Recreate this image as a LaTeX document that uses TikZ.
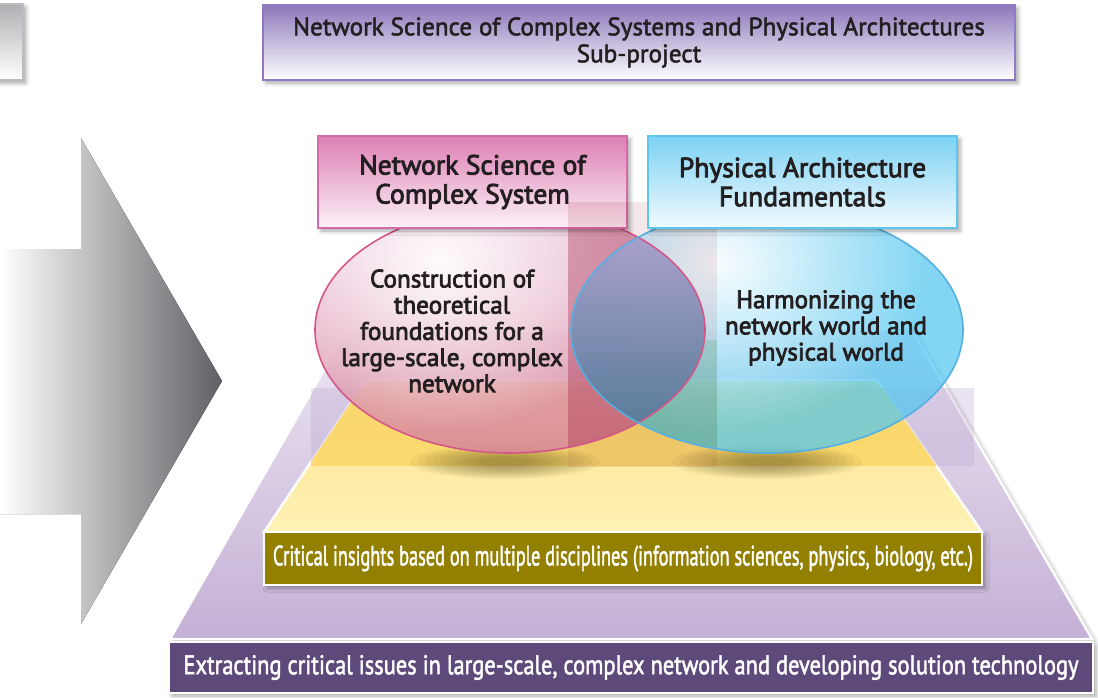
\documentclass[tikz,border=0pt]{standalone}
\usepackage{fontspec}
\setmainfont{PT Sans}
\newfontfamily\semi[FakeBold=3]{PT Sans}
\newfontfamily\barfont[FakeBold=2]{PT Sans}
\usepackage{graphicx}
\usetikzlibrary{shadows.blur,fadings}
\definecolor{arrowdark}{HTML}{5F6064}
\definecolor{purpT}{HTML}{ECE6F3}
\definecolor{purpB}{HTML}{C4B0D5}
\definecolor{yelT}{HTML}{FDE48C}
\definecolor{yelB}{HTML}{FFF1B6}
\definecolor{paneLav}{HTML}{B9A3CF}
\definecolor{yelsat}{HTML}{FDDA64}
\definecolor{olivebar}{HTML}{938000}
\definecolor{barpurple}{HTML}{5D4A7A}
\definecolor{pinkT}{HTML}{DC7FB3}
\definecolor{pinkB}{HTML}{FDF2F7}
\definecolor{pinkD}{HTML}{D46AA8}
\definecolor{blueT}{HTML}{7DD2F4}
\definecolor{blueB}{HTML}{F2FAFE}
\definecolor{blueD}{HTML}{5DC6EE}
\definecolor{ellpT}{HTML}{E9B8D8}
\definecolor{ellpB}{HTML}{D8869A}
\definecolor{ellpD}{HTML}{D4578A}
\definecolor{ellblue}{HTML}{52C6F0}
\definecolor{ellbD}{HTML}{54B0E2}
\definecolor{topT}{HTML}{8C78BB}
\definecolor{topD}{HTML}{8F7BC2}
\definecolor{grayT}{HTML}{B0B0B4}
\definecolor{grayD}{HTML}{BDBDC1}
\definecolor{shadowc}{HTML}{4E4010}
\definecolor{textc}{HTML}{231F20}
\definecolor{paneA}{HTML}{8A2A3A}
\definecolor{pinkdark}{HTML}{A82848}
\definecolor{greenish}{HTML}{3AA860}
\definecolor{lensT}{HTML}{B4A6D6}
\definecolor{lensB}{HTML}{4C7694}
\tikzfading[name=glow, inner color=transparent!0, outer color=transparent!100]
\newcommand\fitto[2]{\resizebox{#1}{\height}{#2}}
\tikzset{
  panel/.style={draw, line width=0.7pt, inner sep=0pt, align=center, text=textc,
    blur shadow={shadow xshift=1.5pt, shadow yshift=-1.5pt, shadow blur radius=2pt, shadow opacity=35}},
  etext/.style={align=center, text=textc, inner sep=0pt, font=\semi\fontsize{12.6}{13.1}\selectfont},
  barbox/.style={draw=white, line width=0.8pt, inner sep=0pt, text=white,
    blur shadow={shadow xshift=1.5pt, shadow yshift=-1.5pt, shadow blur radius=2pt, shadow opacity=35}},
  shadowpart/.style={fill=shadowc, opacity=0.055},
}
\begin{document}
\begin{tikzpicture}[x={(0.5pt,0)}, y={(0,-0.5pt)}]
\useasboundingbox (0,0) rectangle (1098,697);

% partial grey box at top left
\node[panel, draw=grayD, top color=grayT, bottom color=white, minimum width=45pt, minimum height=38pt] (gbox) at (-22,42) {};

% big grey arrow
\fill[left color=white, right color=arrowdark] (0,249) -- (81,249) -- (81,138) -- (222,381) -- (81,624) -- (81,514) -- (0,514) -- cycle;

% purple trapezoid
\path[draw=white, line width=1.2pt, top color=purpT, bottom color=purpB,
  blur shadow={shadow xshift=1.5pt, shadow yshift=-1pt, shadow blur radius=2pt, shadow opacity=30}]
  (347,330) -- (912,330) -- (1092,639) -- (170,639) -- cycle;

% yellow trapezoid
\path[draw=white, line width=1.2pt, top color=yelT, bottom color=yelB]
  (366,380) -- (877,380) -- (982,532) -- (264,532) -- cycle;

% glass pane
\fill[paneLav, opacity=0.3] (311,388) rectangle (974,466);
\begin{scope}
  \clip (366,380) -- (877,380) -- (982,532) -- (264,532) -- cycle;
  \fill[yelsat, opacity=0.85] (311,388) rectangle (974,466);
\end{scope}

% shadows under the ellipses
\foreach \s in {1.0,0.92,0.84,0.76,0.68,0.6,0.52,0.44,0.36,0.28}{
  \fill[shadowpart] (505,462) ellipse ({95*\s} and {17*\s});
  \fill[shadowpart] (767,462) ellipse ({95*\s} and {17*\s});
}

% pink ellipse
\path[top color=ellpT, bottom color=ellpB, fill opacity=0.85] (510,330) ellipse (195 and 123);
\begin{scope}
  \clip (510,330) ellipse (195 and 123);
  \fill[white, path fading=glow, fill opacity=0.95] (440,262) ellipse (210 and 170);
\end{scope}

% blue ellipse
\path[fill=ellblue, fill opacity=0.72] (767,330) ellipse (196 and 123);
\begin{scope}
  \clip (767,330) ellipse (196 and 123);
  \fill[white, path fading=glow, fill opacity=0.95] (717,262) ellipse (210 and 170);
\end{scope}

% darker reflection pane
\fill[paneA, opacity=0.10] (568,202) rectangle (717,467);
\begin{scope}
  \clip (510,330) ellipse (195 and 123);
  \fill[pinkdark, opacity=0.28] (568,202) rectangle (717,467);
\end{scope}
\begin{scope}
  \clip (767,330) ellipse (196 and 123);
  \fill[greenish, opacity=0.2] (568,340) rectangle (717,467);
\end{scope}

% lens (overlap)
\begin{scope}
  \clip (510,330) ellipse (195 and 123);
  \path[top color=lensT, bottom color=lensB, fill opacity=0.95] (767,330) ellipse (196 and 123);
\end{scope}

% ellipse borders
\draw[ellpD, line width=0.8pt] (510,330) ellipse (195 and 123);
\draw[ellbD, line width=0.8pt] (767,330) ellipse (196 and 123);

% title boxes
\node[panel, draw=topD, top color=topT, bottom color=white, minimum width=376pt, minimum height=37.5pt,
  font=\barfont\fontsize{12.6}{13.5}\selectfont] (top) at (639,42.5)
  {Network Science of Complex Systems and Physical Architectures\\Sub-project};
\node[panel, draw=pinkD, top color=pinkT, bottom color=pinkB, minimum width=154.5pt, minimum height=46pt,
  font=\semi\fontsize{13.8}{14.5}\selectfont] (nsbox) at (472.5,182)
  {Network Science of\\Complex System};
\node[panel, draw=blueD, top color=blueT, bottom color=blueB, minimum width=154.5pt, minimum height=46pt,
  font=\semi\fontsize{13.8}{14.5}\selectfont] (pabox) at (802.5,182)
  {Physical Architecture\\Fundamentals};
\fill[pinkdark, opacity=0.15] (568,202) rectangle (628,229);

% ellipse texts
\node[etext] (lt) at (452,331) {Construction of\\theoretical\\foundations for a\\large-scale, complex\\network};
\node[etext] (rt) at (826,328) {Harmonizing the\\network world and\\physical world};

% bottom bars
\node[barbox, fill=olivebar, minimum width=359pt, minimum height=26.5pt] (crit) at (623,558.5)
  {\barfont\fontsize{14}{15}\selectfont\fitto{350pt}{Critical insights based on multiple disciplines (information sciences, physics, biology, etc.)}};
\node[barbox, fill=barpurple, minimum width=462pt, minimum height=25.5pt] (extr) at (631,667.5)
  {\barfont\fontsize{13.5}{15}\selectfont\fitto{447.5pt}{Extracting critical issues in large-scale, complex network and developing solution technology}};
\end{tikzpicture}
\end{document}
